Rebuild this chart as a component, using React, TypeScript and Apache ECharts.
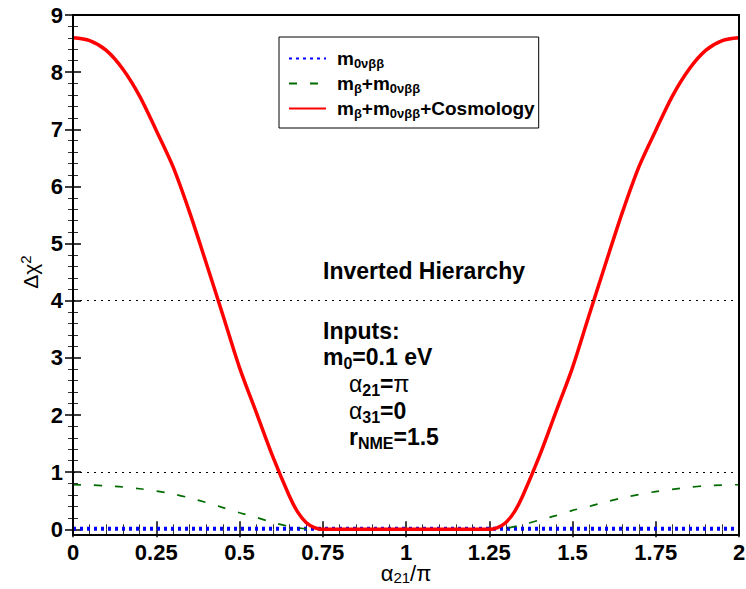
import React, { useEffect, useRef } from 'react';
import * as echarts from 'echarts';

// ---- data ----
const blueX = [0, 0.25, 0.5, 0.75, 1, 1.25, 1.5, 1.75, 2];
const blueY = [0.01, 0.01, 0.01, 0.01, 0.01, 0.01, 0.01, 0.01, 0.01];

const greenX = [0, 0.05, 0.1, 0.15, 0.2, 0.25, 0.3, 0.35, 0.4, 0.45, 0.5, 0.55, 0.6, 0.65, 0.7,
  0.8, 0.9, 1.0, 1.1, 1.2,
  1.3, 1.35, 1.4, 1.45, 1.5, 1.55, 1.6, 1.65, 1.7, 1.75, 1.8, 1.85, 1.9, 1.95, 2.0];
const greenY = [0.78, 0.775, 0.76, 0.74, 0.71, 0.67, 0.62, 0.55, 0.47, 0.38, 0.29, 0.21, 0.12, 0.05, 0.01,
  0, 0, 0, 0, 0,
  0.02, 0.08, 0.16, 0.24, 0.33, 0.40, 0.48, 0.55, 0.61, 0.66, 0.70, 0.735, 0.76, 0.775, 0.78];

const redX = [0, 0.05, 0.1, 0.15, 0.2, 0.25, 0.3, 0.35, 0.4, 0.45, 0.5, 0.55, 0.6, 0.65,
  0.675, 0.7, 0.725, 0.75, 1.0, 1.25, 1.275, 1.3, 1.325, 1.35,
  1.4, 1.45, 1.5, 1.55, 1.6, 1.65, 1.7, 1.75, 1.8, 1.85, 1.9, 1.95, 2.0];
const redY = [8.6, 8.55, 8.38, 8.05, 7.58, 6.98, 6.35, 5.55, 4.66, 3.75, 2.83, 2.05, 1.27, 0.58,
  0.3, 0.12, 0.03, 0, 0, 0, 0.03, 0.12, 0.3, 0.58,
  1.27, 2.05, 2.83, 3.75, 4.66, 5.55, 6.35, 6.98, 7.58, 8.05, 8.38, 8.55, 8.6];

const refLevels = [1, 4];
const seriesNames = ['m0νββ', 'mβ+m0νββ', 'mβ+m0νββ+Cosmology'];
const legendRich = [
  '{b|m}{s|0νββ}',
  '{b|m}{s|β}{b|+m}{s|0νββ}',
  '{b|m}{s|β}{b|+m}{s|0νββ}{b|+Cosmology}',
];
const annotationLines = [
  { text: '{b|Inverted Hierarchy}', indent: 0, row: 0 },
  { text: '{b|Inputs:}', indent: 0, row: 1 },
  { text: '{b|m}{s|0}{b|=0.1 eV}', indent: 0, row: 2 },
  { text: '{g|α}{s|21}{b|=}{g|π}', indent: 1, row: 3 },
  { text: '{g|α}{s|31}{b|=0}', indent: 1, row: 4 },
  { text: '{b|r}{s|NME}{b|=1.5}', indent: 1, row: 5 },
];
const annotationY = [271, 331, 357, 384, 411, 437];

const FONT = '"Liberation Sans", Arial, Helvetica, sans-serif';

function richSet(size: number, sub: number, off: number) {
  const L = size + 6;
  return {
    b: { fontFamily: FONT, fontWeight: 'bold', fontSize: size, lineHeight: L, color: '#000' },
    g: { fontFamily: FONT, fontWeight: 'normal', fontSize: size, lineHeight: L, color: '#000' },
    s: { fontFamily: FONT, fontWeight: 'bold', fontSize: sub, lineHeight: L - off, padding: [off, 0, 0, 0], color: '#000' },
  };
}

export default function App() {
  const ref = useRef<HTMLDivElement>(null);
  useEffect(() => {
    if (!ref.current) return;
    const chart = echarts.init(ref.current, null, { renderer: 'svg' });

    const frameLeft = 73, frameTop = 15, frameW = 666, frameH = 520;
    const belowZero = 5.7; // frame extends a little below y = 0
    const gridH = frameH - belowZero;

    const tickLabelStyle = { fontFamily: FONT, fontWeight: 'bold' as const, fontSize: 22, color: '#000' };
    const majorTick = { show: true, inside: true, length: 8, lineStyle: { color: '#000', width: 1.5 } };
    const minorTick = { show: true, splitNumber: 5, length: 5, lineStyle: { color: '#333', width: 1 } };

    const annRich = richSet(23, 16, 12);

    chart.setOption({
      animation: false,
      backgroundColor: '#fff',
      grid: {
        left: frameLeft, top: frameTop, width: frameW, height: gridH, show: false,
        containLabel: false, outerBoundsMode: 'none',
      },
      xAxis: [
        {
          type: 'value', position: 'bottom', offset: belowZero, min: 0, max: 2, interval: 0.25,
          axisLine: { show: false },
          axisTick: majorTick, minorTick, splitLine: { show: false },
          axisLabel: { ...tickLabelStyle, margin: 6 },
          name: '{g|α}{s|21}{g|/π}',
          nameLocation: 'middle',
          nameGap: 27,
          nameMoveOverlap: false,
          nameTextStyle: {
            rich: {
              g: { fontFamily: FONT, fontSize: 22, lineHeight: 22, color: '#000' },
              s: { fontFamily: FONT, fontSize: 15, lineHeight: 14, padding: [8, 0, 0, 0], color: '#000' },
            },
          },
        },
        {
          type: 'value', position: 'top', min: 0, max: 2, interval: 0.25,
          axisLine: { show: false },
          axisTick: majorTick, minorTick, splitLine: { show: false },
          axisLabel: { show: false },
        },
      ],
      yAxis: [
        {
          type: 'value', position: 'left', min: 0, max: 9, interval: 1,
          axisLine: { show: false },
          axisTick: majorTick, minorTick, splitLine: { show: false },
          axisLabel: { ...tickLabelStyle, margin: 10 },
          name: '{g|Δχ}{p|2}',
          nameLocation: 'middle',
          nameGap: 30,
          nameMoveOverlap: false,
          nameRotate: 90,
          nameTextStyle: {
            rich: {
              g: { fontFamily: FONT, fontSize: 21, lineHeight: 26, color: '#000' },
              p: { fontFamily: FONT, fontSize: 15, lineHeight: 16, padding: [0, 0, 10, 0], color: '#000' },
            },
          },
        },
        {
          type: 'value', position: 'right', min: 0, max: 9, interval: 1,
          axisLine: { show: false },
          axisTick: majorTick, minorTick, splitLine: { show: false },
          axisLabel: { show: false },
        },
      ],
      legend: {
        left: 279, top: 37, orient: 'vertical',
        itemWidth: 37, itemHeight: 14, itemGap: 2,
        padding: [10, 4, 8, 9],
        borderColor: '#000', borderWidth: 1, backgroundColor: '#fff',
        data: seriesNames,
        itemStyle: { opacity: 0 },
        formatter: (name: string) => legendRich[seriesNames.indexOf(name)],
        textStyle: { padding: [0, 0, 0, 6], rich: richSet(19, 13, 10) },
      },
      graphic: [
        {
          type: 'rect', z: 20, silent: true,
          shape: { x: frameLeft, y: frameTop, width: frameW, height: frameH },
          style: { fill: 'none', stroke: '#000', lineWidth: 2 },
        },
        ...annotationLines.map((a) => ({
          type: 'text',
          x: a.indent ? 349 : 323,
          y: annotationY[a.row],
          z: 10,
          style: { text: a.text, rich: annRich, verticalAlign: 'middle', align: 'left' },
        })),
      ],
      series: [
        {
          name: seriesNames[0], type: 'line', clip: false,
          data: blueX.map((x, i) => [x, blueY[i]]),
          symbol: 'none', showSymbol: false,
          lineStyle: { color: '#0000ff', width: 4, type: [3, 4] },
          itemStyle: { color: '#0000ff' },
          markLine: {
            silent: true, symbol: 'none', label: { show: false },
            lineStyle: { color: '#000', width: 1, type: [2, 5] },
            data: refLevels.map((v) => ({ yAxis: v })),
          },
          z: 2,
        },
        {
          name: seriesNames[1], type: 'line', clip: false,
          data: greenX.map((x, i) => [x, greenY[i]]),
          symbol: 'none', showSymbol: false, smooth: 0.3,
          lineStyle: { color: '#006b00', width: 1.7, type: [8, 13] },
          itemStyle: { color: '#006b00' },
          z: 3,
        },
        {
          name: seriesNames[2], type: 'line', clip: false,
          data: redX.map((x, i) => [x, redY[i]]),
          symbol: 'none', showSymbol: false, smooth: 0.3,
          lineStyle: { color: '#ff0000', width: 3.5 },
          itemStyle: { color: '#ff0000' },
          z: 4,
        },
      ],
    });
    return () => chart.dispose();
  }, []);
  return <div ref={ref} style={{ width: 746, height: 589, position: 'absolute', left: 0, top: 0 }} />;
}
